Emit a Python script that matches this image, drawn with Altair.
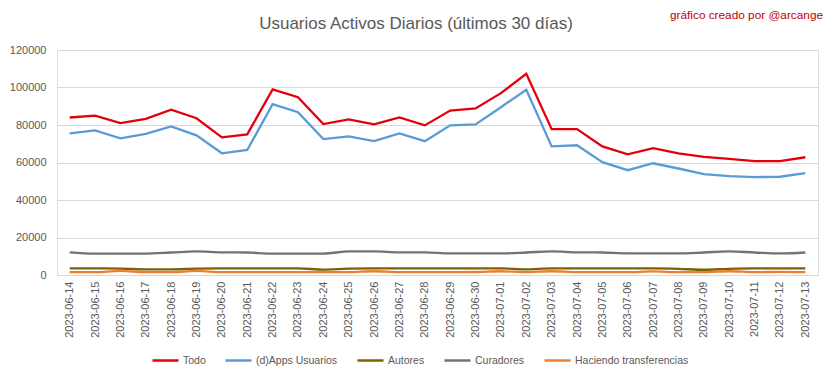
import altair as alt
import pandas as pd

dates = ["2023-06-14", "2023-06-15", "2023-06-16", "2023-06-17", "2023-06-18",
         "2023-06-19", "2023-06-20", "2023-06-21", "2023-06-22", "2023-06-23",
         "2023-06-24", "2023-06-25", "2023-06-26", "2023-06-27", "2023-06-28",
         "2023-06-29", "2023-06-30", "2023-07-01", "2023-07-02", "2023-07-03",
         "2023-07-04", "2023-07-05", "2023-07-06", "2023-07-07", "2023-07-08",
         "2023-07-09", "2023-07-10", "2023-07-11", "2023-07-12", "2023-07-13"]

todo = [84000, 85000, 81000, 83300, 88200, 83600, 73400, 75000, 99000, 94800,
        80500, 83000, 80300, 84000, 79800, 87700, 88800, 97000, 107300, 77800,
        77800, 68600, 64400, 67700, 64900, 63000, 61900, 60700, 60700, 62800]

dapps = [75500, 77100, 72900, 75300, 79200, 74500, 64900, 66700, 91100, 86800,
         72500, 73900, 71400, 75500, 71400, 79800, 80300, 89500, 98800, 68600,
         69200, 60200, 55900, 59600, 56800, 53800, 52700, 52200, 52400, 54300]

autores = [3500, 3500, 3400, 3000, 3000, 3400, 3500, 3500, 3500, 3500,
           2900, 3400, 3500, 3500, 3500, 3500, 3500, 3500, 3000, 3500,
           3500, 3500, 3500, 3500, 3300, 2800, 3300, 3500, 3500, 3500]

curadores = [12100, 11400, 11400, 11400, 12000, 12600, 12100, 12000, 11400, 11400,
             11400, 12600, 12600, 12100, 12100, 11500, 11500, 11500, 12000, 12600,
             12100, 12000, 11500, 11500, 11500, 12000, 12600, 12000, 11500, 12000]

transfer = [1500, 1500, 2200, 1500, 1500, 2200, 1500, 1500, 1500, 1500,
            1500, 1500, 2000, 1500, 1500, 1500, 1600, 2000, 1500, 2000,
            1500, 1500, 1500, 1900, 1500, 1500, 2000, 1500, 1700, 1500]

series_names = ["Todo", "(d)Apps Usuarios", "Autores", "Curadores", "Haciendo transferencias"]
series_colors = ["#E3000B", "#5B9BD5", "#7F6000", "#737373", "#ED7D31"]
y_ticks = [0, 20000, 40000, 60000, 80000, 100000, 120000]

title_text = "Usuarios Activos Diarios (últimos 30 días)"
credit_text = "gráfico creado por @arcange"

rows = []
for name, vals in zip(series_names, [todo, dapps, autores, curadores, transfer]):
    for d, v in zip(dates, vals):
        rows.append({"fecha": d, "serie": name, "valor": v})
df = pd.DataFrame(rows)

FONT = "Liberation Sans"
GREY = "#595959"

color = alt.Color(
    "serie:N",
    scale=alt.Scale(domain=series_names, range=series_colors),
    legend=alt.Legend(
        title=None, orient="none", direction="horizontal", columns=5,
        legendX=94, legendY=296,
        symbolType="stroke", symbolSize=676, symbolStrokeWidth=2.5,
        labelFont=FONT, labelFontSize=10.5, labelColor=GREY, labelOffset=3,
        columnPadding=14, labelLimit=300,
    ),
)
x = alt.X(
    "fecha:N", sort=dates,
    scale=alt.Scale(type="point", padding=0.5),
    axis=alt.Axis(title=None, labelAngle=270, labelFont=FONT, labelFontSize=11,
                  labelColor=GREY, ticks=False, domain=True, domainColor="#D9D9D9",
                  labelPadding=6, grid=False),
)
y = alt.Y(
    "valor:Q",
    scale=alt.Scale(domain=[0, 120000], nice=False),
    axis=alt.Axis(title=None, values=y_ticks, format="d", labelFont=FONT,
                  labelFontSize=11, labelColor=GREY, ticks=False, domain=False,
                  gridColor="#D9D9D9", gridWidth=1, labelPadding=11),
)

base = alt.Chart(df)
straight = base.transform_filter(
    alt.FieldOneOfPredicate(field="serie", oneOf=series_names[:2])
).mark_line(strokeWidth=2.3).encode(x=x, y=y, color=color)

smooth = base.transform_filter(
    alt.FieldOneOfPredicate(field="serie", oneOf=series_names[2:])
).mark_line(strokeWidth=2.3, interpolate="monotone").encode(x=x, y=y, color=color)

title = alt.Chart(pd.DataFrame({"t": [title_text]})).mark_text(
    align="center", baseline="alphabetic", color=GREY, fontSize=17, font=FONT
).encode(text="t:N", x=alt.value(359), y=alt.value(-21))

credit = alt.Chart(pd.DataFrame({"t": [credit_text]})).mark_text(
    align="right", baseline="alphabetic", color="#C00000", fontSize=11.8, font=FONT
).encode(text="t:N", x=alt.value(766), y=alt.value(-31))

chart = alt.layer(smooth, straight, title, credit).properties(
    width=761, height=225,
    autosize=alt.AutoSizeParams(type="none"),
    padding={"left": 49, "top": 42, "right": 7, "bottom": 96},
).configure_view(stroke=None).configure(background="white")

chart.save("out.html", embed_options={"renderer": "svg", "actions": False})
